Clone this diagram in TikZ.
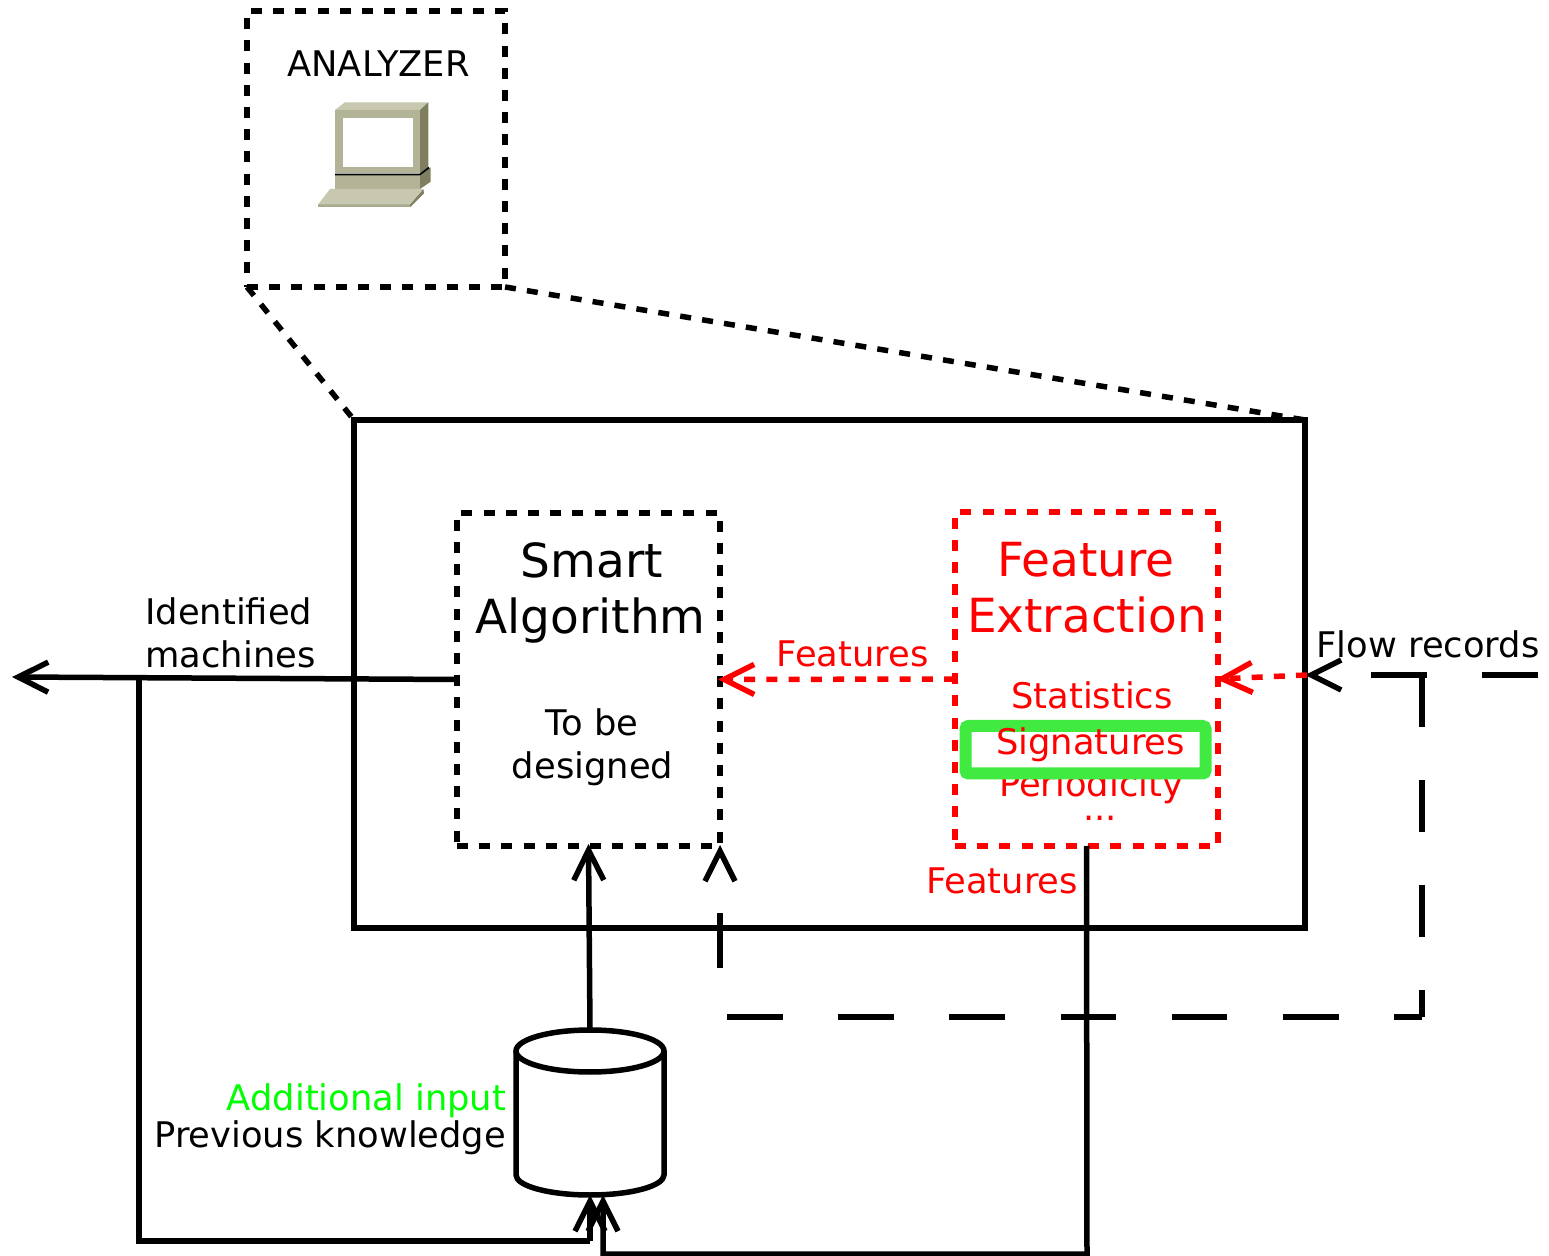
\documentclass[tikz,border=0pt]{standalone}
\usepackage{fontspec}
\setmainfont{DejaVu Sans}
\usetikzlibrary{arrows.meta}
\definecolor{pcfront}{HTML}{B3B398}
\definecolor{pctop}{HTML}{C8C8B0}
\definecolor{pcside}{HTML}{7F7F5F}
\definecolor{hlgreen}{HTML}{40EA40}
\definecolor{lime}{HTML}{00FF00}
\tikzset{
  solidline/.style={draw=black,line width=2.75pt},
  dotbox/.style={line width=2.75pt,dash pattern=on 5.5pt off 5.6pt,inner sep=0pt,outer sep=0pt},
  barb/.style={-{Straight Barb[length=15pt,width=15pt]},shorten >=-1pt},
  big/.style={font=\fontsize{23.5}{28}\selectfont,anchor=base,inner sep=0pt},
  small/.style={font=\fontsize{17.65}{21}\selectfont,anchor=base,inner sep=0pt},
  smallw/.style={small,anchor=base west},
  smalle/.style={small,anchor=base east},
}
\begin{document}
\begin{tikzpicture}[x=0.5pt,y=-0.5pt]
\useasboundingbox (0,0) rectangle (1549,1256);
% boxes
\node[draw=black,line width=2.75pt,dash pattern=on 5.5pt off 5.6pt,inner sep=0pt,outer sep=0pt,minimum width=129pt,minimum height=138pt] (analyzer) at (376,149) {};
\node[draw=black,line width=2.75pt,inner sep=0pt,outer sep=0pt,minimum width=475.5pt,minimum height=254pt] (main) at (829.5,674) {};
\node[dotbox,draw=black,minimum width=131.5pt,minimum height=166.5pt] (smart) at (588.5,679.5) {};
\node[dotbox,draw=red,minimum width=131.5pt,minimum height=167pt] (feat) at (1086.5,679) {};
% zoom lines
\draw[line width=2.75pt,dash pattern=on 5.5pt off 5.6pt] (analyzer.south west) -- (main.north west);
\draw[line width=2.75pt,dash pattern=on 5.5pt off 5.6pt] (analyzer.south east) -- (main.north east);
% computer
\fill[pctop] (335,110) -- (345,102.3) -- (428.3,102.3) -- (420,110) -- cycle;
\fill[pcside] (420,110) -- (428.3,102.3) -- (428.3,167) -- (420,173) -- cycle;
\fill[pcfront] (335,110) rectangle (420,173.5);
\fill[white] (342.7,118.3) rectangle (412.7,167.3);
\fill[pcside] (420,175.7) -- (430.7,167.3) -- (430.7,181.7) -- (420,189) -- cycle;
\fill[pcfront] (335,175.5) rectangle (420,189);
\draw[black,line width=0.9pt] (335,174.5) -- (420,174.5) -- (429,167.5);
\fill[pcside] (410,204.3) -- (423.3,189) -- (424,193.3) -- (410,207.3) -- cycle;
\fill[pcfront!80!pcside] (318.3,204.3) rectangle (410,207.3);
\fill[pctop] (330,189) -- (423.3,189) -- (410,204.3) -- (318.3,204.3) -- cycle;
% database
\node[inner sep=0pt,outer sep=0pt,minimum width=75pt,minimum height=82.5pt] (db) at (590,1112.5) {};
\draw[solidline,line join=round] (516,1051) -- (516,1175) arc[start angle=180,end angle=360,x radius=37pt,y radius=10pt] -- (664,1051);
\draw[solidline,fill=white] (590,1051) ellipse [x radius=37pt,y radius=10.5pt];
% coordinates
\coordinate (out) at (14,677);
\coordinate (branch) at (139,678);
\coordinate (fbl) at (139,1241);
\coordinate (fbr) at (590,1241);
\coordinate (dbin) at (590,1197);
\coordinate (dbin2) at (603,1197);
\coordinate (fdb) at (1087,1254);
\coordinate (fdb2) at (603,1254);
\coordinate (flowin) at (1538,675);
\coordinate (flowtip) at (1307,675);
\coordinate (flowturn) at (1422,675);
\coordinate (flowcorner) at (1422,1017);
\coordinate (flowbl) at (720,1017);
\coordinate (flowup) at (720,847);
% connectors
\draw[solidline,barb] (smart.west) -- (out);
\draw[solidline] (branch) -- (fbl) -- (fbr);
\draw[solidline,barb] (fbr) -- (dbin);
\draw[solidline,barb] (feat.south) -- (fdb) -- (fdb2) -- (dbin2);
\draw[solidline,barb] (db.north) -- (smart.south);
\draw[solidline,barb,dash pattern=on 27.8pt off 27.8pt] (flowin) -- (flowtip);
\draw[solidline,dash pattern=on 26.25pt off 26.25pt] (flowturn) -- (flowcorner);
\draw[solidline,barb,dash pattern=on 27.8pt off 27.8pt,dash phase=13.9pt] (flowcorner) -- (flowbl) -- (flowup);
\draw[red,line width=2.75pt,barb,dash pattern=on 5.5pt off 5.6pt] (flowtip) -- (feat.east);
\draw[red,line width=2.75pt,barb,dash pattern=on 5.5pt off 5.6pt] (feat.west) -- (smart.east);
% texts
\node[small] (tanalyzer) at (378.5,77) {ANALYZER};
\node[big] (tsmart) at (592,578) {Smart};
\node[big] (talgo) at (590.5,634) {Algorithm};
\node[small] (ttobe) at (592,736) {To be};
\node[small] (tdesigned) at (592.5,779) {designed};
\node[big,text=red] (tfeature) at (1086,577) {Feature};
\node[big,text=red] (textract) at (1087,633) {Extraction};
\node[small,text=red] (tfeat1) at (852.5,667) {Features};
\node[small,text=red] (tstat) at (1092,709) {Statistics};
\node[small,text=red] (tperiod) at (1091,797) {Periodicity};
\draw[hlgreen,line width=6pt,rounded corners=1.5pt] (965.5,726) rectangle (1205.5,773.5);
\node[small,text=red] (tsign) at (1090.5,755) {Signatures};
\node[small,text=red] (tdots) at (1100,821) {...};
\node[small,text=red] (tfeat2) at (1002,893) {Features};
\node[smallw] (tident) at (145,625) {Identified};
\node[smallw] (tmach) at (145,668) {machines};
\node[small] (tflow) at (1428,658) {Flow records};
\node[smalle,text=lime] (tadd) at (506.5,1110) {Additional input};
\node[smalle] (tprev) at (506.5,1147) {Previous knowledge};
\end{tikzpicture}
\end{document}
